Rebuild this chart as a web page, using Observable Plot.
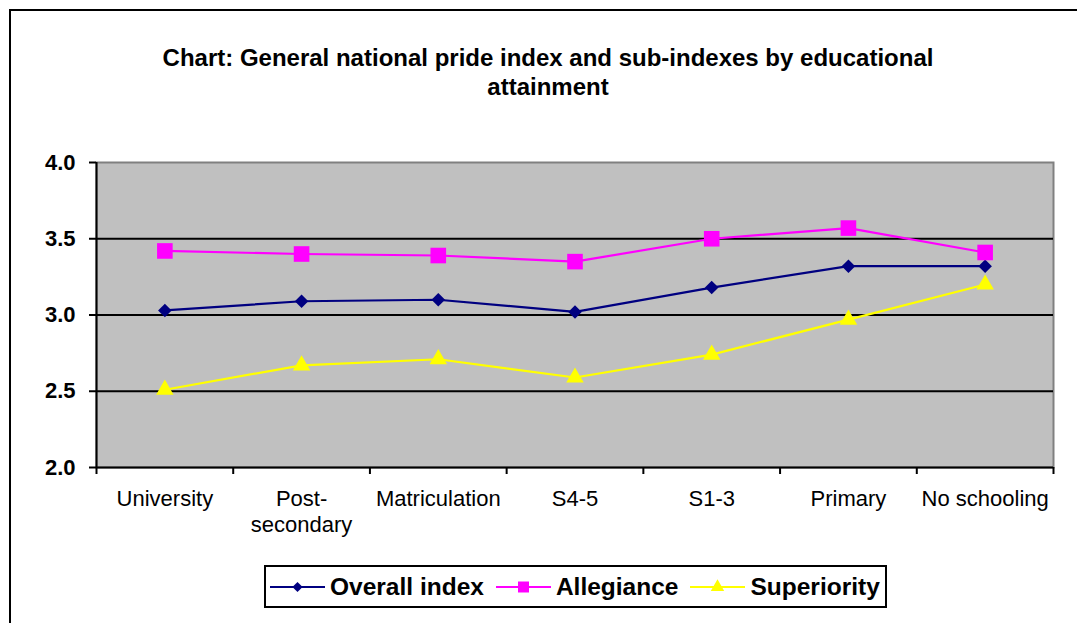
<!DOCTYPE html>
<html>
<head>
<meta charset="utf-8">
<script src="https://cdn.jsdelivr.net/npm/d3@7"></script>
<script src="https://cdn.jsdelivr.net/npm/@observablehq/plot@0.6"></script>
<style>
  html, body { margin: 0; padding: 0; background: #fff; overflow: hidden; width: 1077px; height: 623px; }
  body { position: relative; font-family: "Liberation Sans", Arial, sans-serif; }
  #border { position: absolute; left: 9px; top: 9px; width: 1200px; height: 800px; border: 2px solid #000; box-sizing: border-box; }
  #title { position: absolute; left: 0; top: 43px; width: 1096px; text-align: center; font-weight: bold; font-size: 24px; line-height: 29px; color: #000; }
  #chart { position: absolute; left: 0; top: 0; }
  #legend { position: absolute; left: 264px; top: 565px; width: 623px; height: 43px; box-sizing: border-box; border: 2px solid #000; background: #fff; display: flex; align-items: center; padding: 0 0 0 4px; font-weight: bold; font-size: 24.5px; white-space: nowrap; }
  .item { display: flex; align-items: center; margin-right: 12px; }
  .item svg { margin-right: 5px; }
</style>
</head>
<body>
<div id="border"></div>
<div id="chart"></div>
<div id="title">Chart: General national pride index and sub-indexes by educational<br>attainment</div>
<div id="legend"></div>
<script>
const categories = ["University", "Post-secondary", "Matriculation", "S4-5", "S1-3", "Primary", "No schooling"];
const tickLabels = ["University", "Post-\nsecondary", "Matriculation", "S4-5", "S1-3", "Primary", "No schooling"];
const seriesNames = ["Overall index", "Allegiance", "Superiority"];
const overallIndex = [3.03, 3.09, 3.10, 3.02, 3.18, 3.32, 3.32];
const allegiance   = [3.42, 3.40, 3.39, 3.35, 3.50, 3.57, 3.41];
const superiority  = [2.51, 2.67, 2.71, 2.59, 2.74, 2.97, 3.20];
const yTicks = [2.0, 2.5, 3.0, 3.5, 4.0];
const gridValues = [2.5, 3.0, 3.5];

const colors = ["#000080", "#FF00FF", "#FFFF00"];
const symbols = ["diamond2", "square", "triangle"];
const radii = [6.1, 8.8, 6.5];
const legendRadii = [4.6, 6.2, 5.0];

const seriesValues = [overallIndex, allegiance, superiority];
const data = [];
seriesNames.forEach((s, k) => {
  seriesValues[k].forEach((v, i) => data.push({series: s, k, i, cat: categories[i], v}));
});
const idx = d3.range(categories.length);
const bounds = d3.range(categories.length + 1).map(i => i - 0.5);

const marks = [
  Plot.frame({fill: "#C0C0C0", stroke: "#808080", strokeWidth: 2}),
  Plot.ruleY(gridValues, {stroke: "#000", strokeWidth: 2}),
  Plot.ruleY([2], {stroke: "#000", strokeWidth: 2}),
  Plot.ruleX([-0.5], {stroke: "#000", strokeWidth: 2}),
  Plot.axisY({ticks: yTicks, tickFormat: d3.format(".1f"), label: null, tickSize: 7, tickPadding: 14, fontSize: 22, fontWeight: "bold", strokeWidth: 2, stroke: "#000", fill: "#000"}),
  Plot.axisX({ticks: bounds, tickFormat: () => "", label: null, tickSize: 7, strokeWidth: 2, stroke: "#000"}),
  Plot.axisX({ticks: idx, tickFormat: i => tickLabels[i], label: null, tickSize: 0, tickPadding: 20, fontSize: 22, lineAnchor: "top", fill: "#000", lineHeight: 1.18})
];
seriesNames.forEach((s, k) => {
  const d = data.filter(r => r.k === k);
  marks.push(Plot.line(d, {x: "i", y: "v", stroke: colors[k], strokeWidth: 2.2}));
});
seriesNames.forEach((s, k) => {
  const d = data.filter(r => r.k === k);
  marks.push(Plot.dot(d, {x: "i", y: "v", symbol: () => symbols[k], fill: colors[k], r: radii[k], stroke: "none"}));
});

const chart = Plot.plot({
  width: 1077,
  height: 623,
  marginTop: 162,
  marginLeft: 96,
  marginRight: 24,
  marginBottom: 156,
  style: {background: "transparent", fontFamily: "'Liberation Sans', Arial, sans-serif", color: "#000", overflow: "visible"},
  x: {type: "linear", domain: [-0.5, categories.length - 0.5], axis: null},
  y: {domain: [2, 4], axis: null},
  symbol: {type: "identity"},
  marks
});
document.getElementById("chart").appendChild(chart);

// legend
const legend = document.getElementById("legend");
const symPaths = symbols.map((s, k) => {
  const sym = {diamond2: d3.symbolDiamond2, square: d3.symbolSquare, triangle: d3.symbolTriangle}[s];
  return d3.symbol(sym, Math.PI * legendRadii[k] * legendRadii[k])();
});
seriesNames.forEach((s, k) => {
  const item = document.createElement("div");
  item.className = "item";
  item.innerHTML = `<svg width="55" height="20" viewBox="0 0 55 20"><line x1="0" x2="55" y1="10" y2="10" stroke="${colors[k]}" stroke-width="2.2"/><path d="${symPaths[k]}" transform="translate(27.5,10)" fill="${colors[k]}"/></svg><span>${s}</span>`;
  legend.appendChild(item);
});
</script>
</body>
</html>
